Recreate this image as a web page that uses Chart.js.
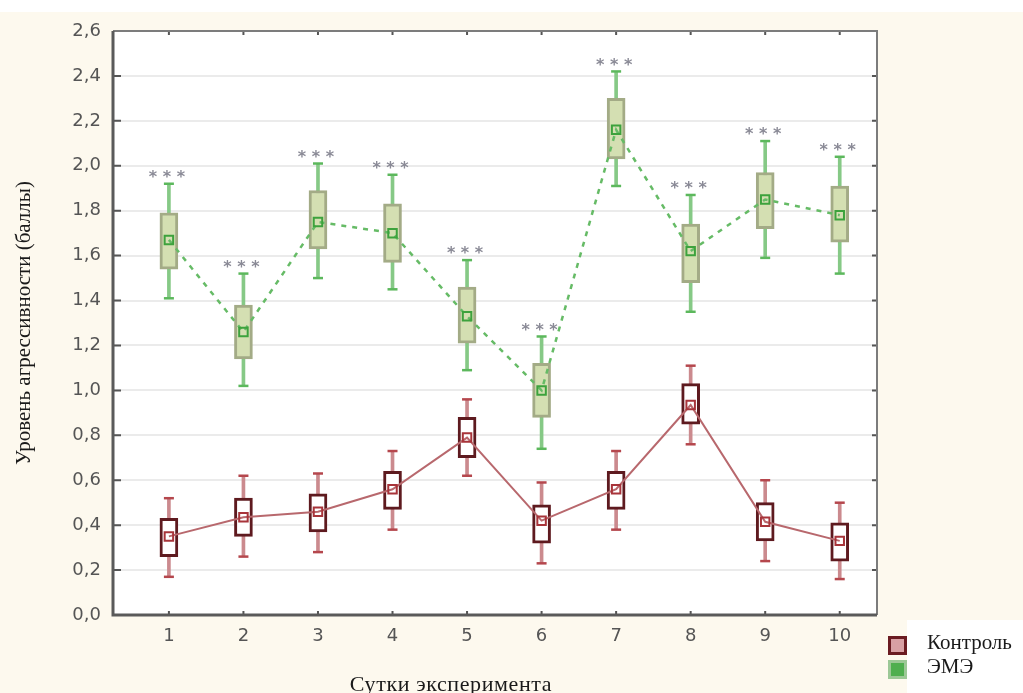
<!DOCTYPE html>
<html>
<head>
<meta charset="utf-8">
<script src="https://cdn.jsdelivr.net/npm/chart.js@4.4.1/dist/chart.umd.min.js"></script>
<style>
  html, body { margin: 0; padding: 0; background: #ffffff; }
  #wrap { position: relative; width: 1023px; height: 693px; overflow: hidden;
          background: linear-gradient(#ffffff 0, #ffffff 12px, #fdf9ee 12px); }
  #chart { position: absolute; left: 0; top: 0; }
  #xtitle { position: absolute; left: 300px; width: 302px; top: 671px; text-align: center;
            font: 22px "Liberation Serif", serif; letter-spacing: 0.6px; color: #1a1a1a; white-space: nowrap; }
  #legend { position: absolute; left: 907px; top: 620px; width: 116px; height: 73px; background: #ffffff; }
  .lg-item { position: absolute; left: -19px; height: 22px; font: 21px "Liberation Serif", serif;
             color: #1a1a1a; white-space: nowrap; }
  .lg-box { position: absolute; left: 0; top: 2px; width: 13px; height: 13px; }
  .lg-item span.lbl { position: absolute; left: 39px; top: -4px; }
</style>
</head>
<body>
<div id="wrap">
  <canvas id="chart" width="1023" height="693"></canvas>
  <div id="xtitle">Сутки эксперимента</div>
  <div id="legend">
    <div class="lg-item" style="top:14px">
      <div class="lg-box" style="border:3px solid #6b1c22;background:#d9a0a4"></div>
      <span class="lbl">Контроль</span>
    </div>
    <div class="lg-item" style="top:38px">
      <div class="lg-box" style="border:3px solid #9cc896;background:#4fae4f"></div>
      <span class="lbl">ЭМЭ</span>
    </div>
  </div>
</div>
<script>
// ── Data ──────────────────────────────────────────────────────────────────────

const days = [1, 2, 3, 4, 5, 6, 7, 8, 9, 10];
const yTicks = [0, 0.2, 0.4, 0.6, 0.8, 1.0, 1.2, 1.4, 1.6, 1.8, 2.0, 2.2, 2.4, 2.6];

// ЭМЭ: среднее, квартили, размах
const emeMean = [1.67, 1.26, 1.75, 1.70, 1.33, 1.00, 2.16, 1.62, 1.85, 1.78];
const emeQ1   = [1.54, 1.14, 1.63, 1.57, 1.21, 0.88, 2.03, 1.48, 1.72, 1.66];
const emeQ3   = [1.79, 1.38, 1.89, 1.83, 1.46, 1.12, 2.30, 1.74, 1.97, 1.91];
const emeMin  = [1.41, 1.02, 1.50, 1.45, 1.09, 0.74, 1.91, 1.35, 1.59, 1.52];
const emeMax  = [1.92, 1.52, 2.01, 1.96, 1.58, 1.24, 2.42, 1.87, 2.11, 2.04];

// Контроль
const ctrlMean = [0.35, 0.435, 0.46, 0.56, 0.79, 0.42, 0.56, 0.935, 0.415, 0.33];
const ctrlQ1   = [0.26, 0.35, 0.37, 0.47, 0.70, 0.32, 0.47, 0.85, 0.33, 0.24];
const ctrlQ3   = [0.43, 0.52, 0.54, 0.64, 0.88, 0.49, 0.64, 1.03, 0.50, 0.41];
const ctrlMin  = [0.17, 0.26, 0.28, 0.38, 0.62, 0.23, 0.38, 0.76, 0.24, 0.16];
const ctrlMax  = [0.52, 0.62, 0.63, 0.73, 0.96, 0.59, 0.73, 1.11, 0.60, 0.50];

const sigMarks = ['***', '***', '***', '***', '***', '***', '***', '***', '***', '***'];

// ── Helpers ───────────────────────────────────────────────────────────────────

const range  = (lo, hi) => days.map((d, i) => ({ x: d, y: [lo[i], hi[i]] }));
const points = (arr)    => days.map((d, i) => ({ x: d, y: arr[i] }));
const caps   = (lo, hi) => points(hi).concat(points(lo));
const fmt    = v => v.toFixed(1).replace('.', ',');

// ── Plugins ───────────────────────────────────────────────────────────────────

const frame = {
  id: 'frame',
  beforeDraw(chart) {
    const { ctx, chartArea: a } = chart;
    ctx.save();
    ctx.fillStyle = '#ffffff';
    ctx.fillRect(a.left, a.top, a.right - a.left, a.bottom - a.top);
    ctx.restore();
  },
  afterDraw(chart) {
    const { ctx, chartArea: a, scales } = chart;
    ctx.save();
    // inward tick marks
    ctx.strokeStyle = '#555';
    ctx.lineWidth = 2;
    scales.y.ticks.forEach(t => {
      const y = scales.y.getPixelForValue(t.value);
      ctx.beginPath();
      ctx.moveTo(a.left, y); ctx.lineTo(a.left + 8, y);
      ctx.moveTo(a.right, y); ctx.lineTo(a.right - 5, y);
      ctx.stroke();
    });
    scales.x.ticks.forEach(t => {
      const x = scales.x.getPixelForValue(t.value);
      ctx.beginPath();
      ctx.moveTo(x, a.bottom); ctx.lineTo(x, a.bottom - 4);
      ctx.moveTo(x, a.top); ctx.lineTo(x, a.top + 4);
      ctx.stroke();
    });
    // frame
    ctx.strokeStyle = '#7c7c7c';
    ctx.lineWidth = 2;
    ctx.beginPath();
    ctx.moveTo(a.left, a.top); ctx.lineTo(a.right, a.top); ctx.lineTo(a.right, a.bottom);
    ctx.stroke();
    ctx.strokeStyle = '#5a5a5a';
    ctx.lineWidth = 3;
    ctx.beginPath();
    ctx.moveTo(a.left, a.top); ctx.lineTo(a.left, a.bottom); ctx.lineTo(a.right, a.bottom);
    ctx.stroke();
    ctx.restore();
  },
};

const stars = {
  id: 'stars',
  afterDatasetsDraw(chart) {
    const { ctx, scales: { x, y } } = chart;
    ctx.save();
    ctx.font = 'bold 16px "DejaVu Sans"';
    ctx.fillStyle = '#8a8a96';
    ctx.textAlign = 'center';
    ctx.textBaseline = 'middle';
    days.forEach((d, i) => {
      const label = sigMarks[i].split('').join(' ');
      ctx.fillText(label, x.getPixelForValue(d) - 2, y.getPixelForValue(emeMax[i]) - 6);
    });
    ctx.restore();
  },
};

// ── Chart ─────────────────────────────────────────────────────────────────────

new Chart(document.getElementById('chart'), {
  type: 'bar',
  data: {
    datasets: [
      // mean markers
      { type: 'line', data: points(emeMean), showLine: false, pointStyle: 'rect', pointRadius: 6,
        borderColor: '#3da23d', backgroundColor: 'rgba(0,0,0,0)', pointBorderWidth: 2, order: 1 },
      { type: 'line', data: points(ctrlMean), showLine: false, pointStyle: 'rect', pointRadius: 6,
        borderColor: '#a8343a', backgroundColor: 'rgba(0,0,0,0)', pointBorderWidth: 2, order: 1 },
      // whisker caps
      { type: 'line', data: caps(emeMin, emeMax), showLine: false, pointStyle: 'line', pointRadius: 5,
        borderColor: '#5cb85c', pointBorderWidth: 2.5, order: 2 },
      { type: 'line', data: caps(ctrlMin, ctrlMax), showLine: false, pointStyle: 'line', pointRadius: 5,
        borderColor: '#b5474d', pointBorderWidth: 2.5, order: 2 },
      // lines through means
      { type: 'line', data: points(emeMean), borderColor: '#66bb66', borderWidth: 2.5,
        borderDash: [5, 6], pointRadius: 0, order: 3 },
      { type: 'line', data: points(ctrlMean), borderColor: '#b8686d', borderWidth: 2,
        pointRadius: 0, order: 3 },
      // boxes
      { data: range(emeQ1, emeQ3), backgroundColor: '#d4dfb2', borderColor: '#a3ab86',
        borderWidth: 3, borderSkipped: false, barThickness: 18, grouped: false, order: 4 },
      { data: range(ctrlQ1, ctrlQ3), backgroundColor: '#ffffff', borderColor: '#5e1a1f',
        borderWidth: 3, borderSkipped: false, barThickness: 18, grouped: false, order: 4 },
      // whiskers
      { data: range(emeMin, emeMax), backgroundColor: '#86c986', borderWidth: 0,
        barThickness: 3, grouped: false, order: 5 },
      { data: range(ctrlMin, ctrlMax), backgroundColor: '#cb8a8e', borderWidth: 0,
        barThickness: 3, grouped: false, order: 5 },
    ],
  },
  options: {
    responsive: false,
    animation: false,
    devicePixelRatio: 1,
    events: [],
    layout: { padding: { left: 8, top: 31, right: 146, bottom: 0 } },
    plugins: { legend: { display: false }, tooltip: { enabled: false } },
    scales: {
      x: {
        type: 'linear',
        offset: false,
        min: 0.25,
        max: 10.5,
        afterBuildTicks: s => { s.ticks = days.map(v => ({ value: v })); },
        afterFit: s => { s.height = 78; },
        grid: { display: false, drawTicks: false, offset: false },
        border: { display: false },
        ticks: {
          padding: 11,
          color: '#555555',
          font: { family: 'DejaVu Sans', size: 18 },
          callback: v => String(v),
        },
      },
      y: {
        min: 0,
        max: 2.6,
        afterBuildTicks: s => { s.ticks = yTicks.map(v => ({ value: v })); },
        afterFit: s => { s.width = 105; },
        grid: { color: '#ebebeb', lineWidth: 2, drawTicks: false },
        border: { display: false },
        ticks: {
          padding: 12,
          color: '#555555',
          font: { family: 'DejaVu Sans', size: 18 },
          callback: v => fmt(v),
        },
        title: {
          display: true,
          text: 'Уровень агрессивности (баллы)',
          color: '#1a1a1a',
          font: { family: 'Liberation Serif', size: 21 },
          padding: { top: 4, bottom: 4 },
        },
      },
    },
  },
  plugins: [frame, stars],
});
</script>
</body>
</html>
